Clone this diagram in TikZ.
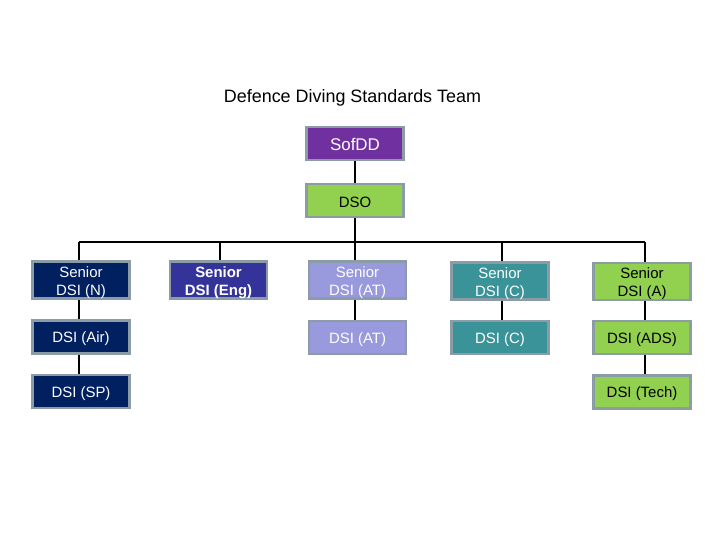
\documentclass[tikz,border=0pt]{standalone}
\usepackage{fontspec}
\setmainfont{Liberation Sans}
\definecolor{bord}{HTML}{8C9CA6}
\definecolor{navy}{HTML}{002060}
\definecolor{indigo}{HTML}{333399}
\definecolor{lav}{HTML}{9999DD}
\definecolor{teal}{HTML}{3A9399}
\definecolor{lgreen}{HTML}{92D050}
\definecolor{purp}{HTML}{7030A0}
\newcommand{\topstrut}{\rule{0pt}{15.5bp}}
\tikzset{
  box/.style={draw=bord, line width=2.5bp, minimum width=97bp, minimum height=33bp, inner sep=0pt, align=center, font=\fontsize{15}{18}\selectfont, execute at begin node={\rule{0pt}{15bp}}},
  wbox/.style={box, text=white},
  conn/.style={line width=1.6bp, black},
}
\begin{document}
\begin{tikzpicture}[x=1bp,y=-1bp]
\useasboundingbox (0,0) rectangle (720,540);
\node[font=\fontsize{18}{20}\selectfont] (title) at (352.5,97.5) {Defence Diving Standards Team};
\node[wbox, fill=purp, font=\fontsize{17}{19}\selectfont] (sof) at (355,143.5) {SofDD};
\node[box, fill=lgreen] (dso) at (355,200.5) {DSO};
\coordinate (bus) at (355,242);
\node[wbox, fill=navy] (sn) at (81,280) {\topstrut Senior\\DSI (N)};
\node[wbox, fill=indigo, font=\fontsize{15}{18}\selectfont\bfseries] (se) at (218.5,280) {\topstrut Senior\\DSI (Eng)};
\node[wbox, fill=lav] (sat) at (357.5,280) {\topstrut Senior\\DSI (AT)};
\node[wbox, fill=teal] (sc) at (500,281) {\topstrut Senior\\DSI (C)};
\node[box, fill=lgreen] (sa) at (642,281.5) {\topstrut Senior\\DSI (A)};
\node[wbox, fill=navy] (air) at (81,337) {DSI (Air)};
\node[wbox, fill=lav] (at) at (357.5,337.5) {DSI (AT)};
\node[wbox, fill=teal] (c) at (500,337.5) {DSI (C)};
\node[box, fill=lgreen] (ads) at (642,337.5) {DSI (ADS)};
\node[wbox, fill=navy] (sp) at (81,391.5) {DSI (SP)};
\node[box, fill=lgreen] (tech) at (642,392) {DSI (Tech)};
\draw[conn] (sof.south -| 355,0) -- (dso.north -| 355,0);
\draw[conn] (dso.south -| 355,0) -- (bus);
\draw[conn] (79,242) -- (645,242);
\draw[conn] (79,242) -- (79,0 |- sn.north);
\draw[conn] (220,242) -- (220,0 |- se.north);
\draw[conn] (355,242) -- (355,0 |- sat.north);
\draw[conn] (502,242) -- (502,0 |- sc.north);
\draw[conn] (645,242) -- (645,0 |- sa.north);
\draw[conn] (79,0 |- sn.south) -- (79,0 |- air.north);
\draw[conn] (79,0 |- air.south) -- (79,0 |- sp.north);
\draw[conn] (355,0 |- sat.south) -- (355,0 |- at.north);
\draw[conn] (502,0 |- sc.south) -- (502,0 |- c.north);
\draw[conn] (645,0 |- sa.south) -- (645,0 |- ads.north);
\draw[conn] (645,0 |- ads.south) -- (645,0 |- tech.north);
\end{tikzpicture}
\end{document}
